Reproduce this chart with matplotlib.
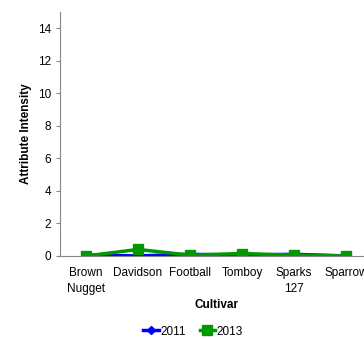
import matplotlib
matplotlib.use('Agg')
import matplotlib.pyplot as plt

cultivars = ['Brown\nNugget', 'Davidson', 'Football', 'Tomboy', 'Sparks\n127', 'Sparrow']
vals_2011 = [0.05, 0.0, 0.1, 0.05, 0.1, 0.0]
vals_2013 = [0.0, 0.4, 0.05, 0.15, 0.05, 0.0]
yticks = [0, 2, 4, 6, 8, 10, 12, 14]

plt.rcParams['font.family'] = ['Liberation Sans', 'DejaVu Sans']

fig = plt.figure(figsize=(3.64, 3.39), dpi=100)
ax = fig.add_axes([0.165, 0.245, 0.857, 0.72])

x = list(range(len(cultivars)))
ax.plot(x, vals_2011, color='#0000FF', marker='D', markersize=4, linewidth=2.5, label='2011')
ax.plot(x, vals_2013, color='#009900', marker='s', markersize=7, linewidth=2.5, label='2013')

ax.set_xlim(-0.5, 5.5)
ax.set_ylim(0, 15)
ax.set_yticks(yticks)
ax.set_xticks(x)
ax.set_xticklabels(cultivars, linespacing=1.4)
ax.tick_params(axis='both', labelsize=8.5, colors='#000000', length=3, color='#888888')
ax.tick_params(axis='x', length=0, pad=8)

for s in ['top', 'right']:
    ax.spines[s].set_visible(False)
for s in ['left', 'bottom']:
    ax.spines[s].set_color('#888888')

ax.set_ylabel('Attribute Intensity', fontsize=8.5, fontweight='bold', labelpad=4)
ax.set_xlabel('Cultivar', fontsize=8.5, fontweight='bold', labelpad=3)

fig.legend(loc='center', bbox_to_anchor=(0.53, 0.022), ncol=2, frameon=False,
           fontsize=8.5, handlelength=1.3, handletextpad=0.1, columnspacing=1.2)

fig.savefig('out.png', dpi=100)
